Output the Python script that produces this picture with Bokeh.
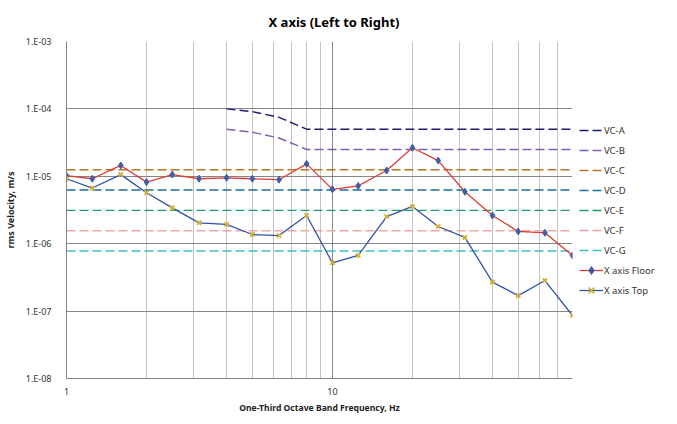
from bokeh.plotting import figure
from bokeh.models import (FixedTicker, CustomJSTickFormatter, Legend, LegendItem, Range1d)
from bokeh.embed import file_html
from bokeh.resources import INLINE

# ---- data ----
freq = [1, 1.25, 1.6, 2, 2.5, 3.15, 4, 5, 6.3, 8, 10, 12.5, 16, 20, 25, 31.5, 40, 50, 63, 80]
floor_x = [1.02e-5, 9.2e-6, 1.45e-5, 8.2e-6, 1.06e-5, 9.2e-6, 9.5e-6, 9.2e-6, 8.9e-6, 1.53e-5,
           6.4e-6, 7.2e-6, 1.22e-5, 2.65e-5, 1.71e-5, 5.9e-6, 2.62e-6, 1.52e-6, 1.45e-6, 6.7e-7]
top_x = [9.2e-6, 6.7e-6, 1.06e-5, 5.7e-6, 3.4e-6, 2.04e-6, 1.93e-6, 1.37e-6, 1.32e-6, 2.62e-6,
         5.2e-7, 6.7e-7, 2.53e-6, 3.57e-6, 1.80e-6, 1.24e-6, 2.69e-7, 1.70e-7, 2.84e-7, 8.6e-8]

vc_ab_freq = [4, 5, 6.3, 8, 10, 12.5, 16, 20, 25, 31.5, 40, 50, 63, 80]
vc_a = [1.0e-4, 9.1e-5, 7.5e-5, 5.0e-5, 5e-5, 5e-5, 5e-5, 5e-5, 5e-5, 5e-5, 5e-5, 5e-5, 5e-5, 5e-5]
vc_b = [5.0e-5, 4.5e-5, 3.7e-5, 2.5e-5, 2.5e-5, 2.5e-5, 2.5e-5, 2.5e-5, 2.5e-5, 2.5e-5, 2.5e-5, 2.5e-5, 2.5e-5, 2.5e-5]
vc_flat_freq = [1, 80]
vc_c = [1.25e-5, 1.25e-5]
vc_d = [6.25e-6, 6.25e-6]
vc_e = [3.12e-6, 3.12e-6]
vc_f = [1.56e-6, 1.56e-6]
vc_g = [7.8e-7, 7.8e-7]

x_major = [1, 10]
x_minor = [2, 3, 4, 5, 6, 7, 8, 9, 20, 30, 40, 50, 60, 70, 80]
y_major = [1e-8, 1e-7, 1e-6, 1e-5, 1e-4, 1e-3]

title_text = "X axis (Left to Right)"
x_label = "One-Third Octave Band Frequency, Hz"
y_label = "rms Velocity, m/s"

FONT = "Noto Sans"

p = figure(frame_width=506, frame_height=337, x_axis_type="log", y_axis_type="log",
           x_range=Range1d(1, 80), y_range=Range1d(1e-8, 1e-3),
           output_backend="svg", toolbar_location=None,
           min_border_left=58, min_border_right=90, min_border_top=33, min_border_bottom=30)
p.outline_line_color = None
p.background_fill_color = "white"

p.title.text = title_text
p.title.text_font = FONT
p.title.text_font_size = "13px"
p.title.text_font_style = "bold"
p.title.text_color = "#000000"
p.title.align = "left"
p.title.offset = 202
p.title.standoff = 21

# axes
for ax in (p.xaxis[0], p.yaxis[0]):
    ax.axis_line_color = "#868686"
    ax.major_tick_line_color = None
    ax.minor_tick_line_color = None
    ax.major_label_text_font = FONT
    ax.major_label_text_font_size = "9px"
    ax.major_label_text_color = "#333333"
    ax.axis_label_text_font = FONT
    ax.axis_label_text_font_size = "9px"
    ax.axis_label_text_font_style = "bold"
    ax.axis_label_text_color = "#222222"

p.xaxis.axis_label_text_font_size = "8.6px"
p.xaxis.ticker = FixedTicker(ticks=x_major, minor_ticks=x_minor)
p.yaxis.ticker = FixedTicker(ticks=y_major, minor_ticks=[])
p.xaxis.formatter = CustomJSTickFormatter(code="return String(Math.round(tick));")
p.yaxis.formatter = CustomJSTickFormatter(code="""
const e = Math.round(Math.log10(tick));
const a = Math.abs(e);
return "1.E" + (e < 0 ? "-" : "+") + (a < 10 ? "0" + a : "" + a);
""")
p.xaxis.axis_label = x_label
p.yaxis.axis_label = y_label
p.xaxis.major_label_standoff = 3
p.yaxis.major_label_standoff = 9
p.xaxis.axis_label_standoff = 4
p.yaxis.axis_label_standoff = 6

p.xgrid.grid_line_color = "#868686"
p.xgrid.minor_grid_line_color = "#C4C4C4"
p.ygrid.grid_line_color = "#868686"
p.ygrid.minor_grid_line_color = None

DASH = "9 4"
vc_specs = [
    ("VC-A", vc_ab_freq, vc_a, "#1C1C72"),
    ("VC-B", vc_ab_freq, vc_b, "#8160B0"),
    ("VC-C", vc_flat_freq, vc_c, "#BB7420"),
    ("VC-D", vc_flat_freq, vc_d, "#1E6E9E"),
    ("VC-E", vc_flat_freq, vc_e, "#1E9C6C"),
    ("VC-F", vc_flat_freq, vc_f, "#EBA8AA"),
    ("VC-G", vc_flat_freq, vc_g, "#3FC2C2"),
]
items = []
for name, xs, ys, col in vc_specs:
    r = p.line(xs, ys, line_color=col, line_width=1.4, line_dash=DASH)
    items.append(LegendItem(label=name, renderers=[r]))

fl = p.line(freq, floor_x, line_color="#E23A36", line_width=1.3)
fm = p.scatter(freq, floor_x, marker="diamond", size=7, fill_color="#3E5FA6", line_color="#3E5FA6")
tl = p.line(freq, top_x, line_color="#3152A8", line_width=1.3)
tm = p.scatter(freq, top_x, marker="x", size=6, line_color="#D2AF35", line_width=1.8)
items.append(LegendItem(label="X axis Floor", renderers=[fl, fm]))
items.append(LegendItem(label="X axis Top", renderers=[tl, tm]))

legend = Legend(items=items, location=(7, 78), orientation="vertical",
                glyph_width=24, glyph_height=20, label_height=20, spacing=0,
                padding=0, margin=0, label_standoff=1,
                label_text_font=FONT, label_text_font_size="9.5px", label_text_color="#333333",
                border_line_color=None, background_fill_alpha=0)
p.add_layout(legend, "right")

open("out.html", "w").write(file_html(p, INLINE))
